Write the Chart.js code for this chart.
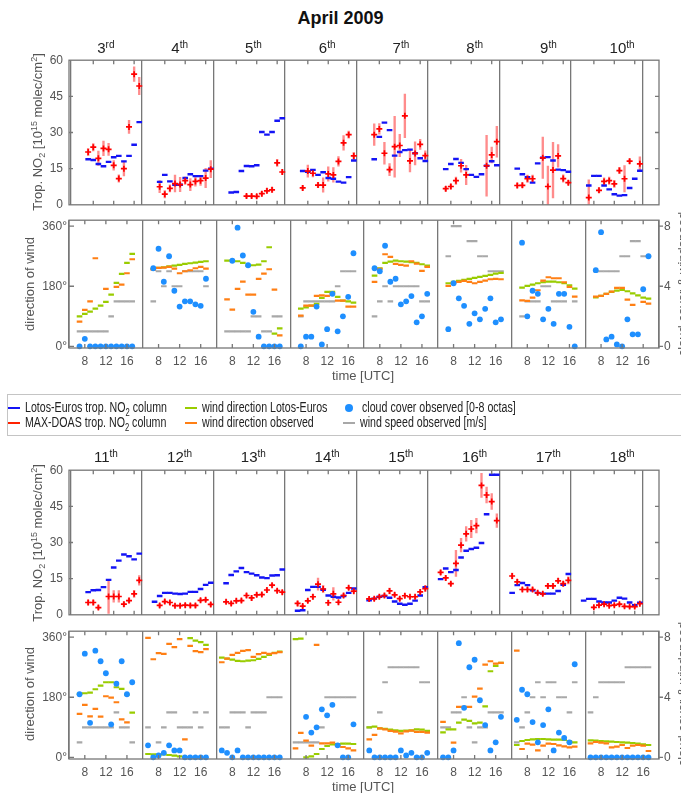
<!DOCTYPE html>
<html>
<head>
<meta charset="utf-8">
<script src="https://cdn.jsdelivr.net/npm/chart.js@4.4.1/dist/chart.umd.min.js"></script>
<style>
  body { margin: 0; width: 681px; height: 793px; overflow: hidden; background: #fff; position: relative;
         font-family: 'Liberation Sans', sans-serif; }
  canvas { position: absolute; left: 0; }
  .t { position: absolute; white-space: nowrap; }
  .title { left: 0; width: 681px; top: 8px; text-align: center; font: bold 18px 'Liberation Sans', sans-serif; color: #111; }
  .day { width: 73.75px; text-align: center; font-size: 15px; line-height: 16px; color: #222; }
  .day span { font-size: 10px; position: relative; top: -5px; }
  .rot { transform: translate(-50%, -50%) rotate(-90deg); font-size: 13px; color: #555; line-height: 14px; }
  .rot sub, .rot sup { font-size: 9px; }
  .time { font-size: 13px; color: #555; transform: translate(-50%, -50%); line-height: 14px; }
  .legend { left: 7px; top: 394px; width: 700px; height: 40px; border: 1.5px solid #c4c4c4; border-right: none; }
  .lg { font-size: 14px; line-height: 15px; color: #222; transform: scaleX(0.76); transform-origin: 0 50%; }
  .lg sub { font-size: 10px; }
  .sw { position: absolute; width: 12px; height: 2px; }
  .dot { position: absolute; width: 8px; height: 8px; border-radius: 50%; background: #1e8fff; }
</style>
</head>
<body>
<div class="t title">April 2009</div>
<script>
// hours of the day for every value slot
var hours = [6, 7, 8, 9, 10, 11, 12, 13, 14, 15, 16, 17];
var days = ['3', '4', '5', '6', '7', '8', '9', '10', '11', '12', '13', '14', '15', '16', '17', '18'];
var daySuffix = ['rd', 'th', 'th', 'th', 'th', 'th', 'th', 'th', 'th', 'th', 'th', 'th', 'th', 'th', 'th', 'th'];
var timeTicks = [8, 12, 16];
var no2Ticks = [0, 15, 30, 45, 60];
var dirTicks = [0, 180, 360];
var octaTicks = [0, 4, 8];

// Lotos-Euros tropospheric NO2 column [1e15 molec/cm2], one row per day
var lotosNo2 = [
  [null, 18.9, 18.6, 16.9, 16.0, 17.8, 19.7, 20.3, 18.0, 20.3, 24.9, 34.3],
  [null, 9.5, 12.4, 9.7, 8.3, 8.3, 11.1, 12.7, 11.9, 11.9, 14.2, 15.0],
  [null, 5.1, 5.3, 14.0, 16.1, 16.0, 16.4, 30.2, 29.1, 30.2, 34.9, 35.9],
  [null, 14.0, 13.7, 14.5, 12.4, 13.5, 11.1, 10.8, 9.6, 9.2, 11.5, 18.4],
  [null, 18.9, 28.2, 34.1, 31.0, 20.4, 21.9, 22.7, 22.9, 21.4, 19.3, 18.2],
  [null, 14.8, 16.9, 19.0, 17.4, 14.8, 12.4, 11.6, 12.7, 16.2, 18.1, 16.4],
  [null, 15.0, 12.7, 11.5, 9.2, 17.2, 19.5, 19.8, 18.4, 14.6, 14.4, 13.7],
  [null, 8.0, 12.0, 12.0, 8.0, 6.4, 4.4, 3.8, 4.0, 7.0, 10.8, 14.1],
  [null, 9.4, 10.2, 10.3, 11.5, 14.5, 19.6, 22.5, 25.0, 24.3, 23.0, 25.4],
  [5.4, 7.8, 9.1, 9.1, 8.8, 8.6, 8.8, 9.5, 9.5, 10.7, 12.4, 13.3],
  [13.1, 16.5, 18.0, 19.4, 17.7, 17.1, 16.4, 15.5, 15.2, 16.3, 16.4, 18.8],
  [1.7, 1.9, 10.3, 11.6, 11.6, 10.4, 8.0, 7.5, 7.2, 7.8, 9.1, 10.9],
  [6.0, 6.7, 7.5, 7.8, 7.1, 5.5, 4.6, 4.2, 4.6, 5.9, 8.0, 11.5],
  [14.8, 19.2, 17.7, 18.6, 23.8, 26.6, 27.3, 27.8, 29.8, 41.7, 58.1, 58.1],
  [9.1, 12.3, 13.2, 12.3, 10.2, 9.1, 8.8, 8.8, 8.8, 9.9, 12.5, 16.9],
  [5.9, 6.6, 6.6, 5.5, 5.1, 5.1, 5.9, 7.1, 6.7, 5.1, 4.0, 5.0]
];

// MAX-DOAS tropospheric NO2 column
var doasNo2 = [
  [null, 21.9, 23.9, 19.3, 23.4, 23.0, 16.4, 10.9, 15.0, 32.3, 54.2, 49.3],
  [null, 7.5, 4.4, 6.8, 8.8, 8.4, 10.0, 8.4, 9.7, 10.0, 11.1, 14.8],
  [null, null, null, null, 3.6, 3.6, 3.5, 4.6, 5.8, 6.2, 17.4, 13.6],
  [null, 7.0, 14.0, 13.1, 8.2, 8.2, 12.8, 12.4, 18.0, 25.7, 29.1, 20.3],
  [null, 29.1, 31.5, 21.4, 14.6, 24.1, 24.6, 36.9, 18.2, 21.3, 25.1, 20.4],
  [null, 6.7, 7.6, 10.0, 16.2, 12.4, null, null, null, 16.2, 20.7, 26.2],
  [null, 8.0, 8.1, 10.8, 10.8, null, 19.5, 7.6, 14.4, 20.3, 10.9, 9.2],
  [null, 3.0, null, 6.0, 9.7, 10.0, 8.7, 14.2, 10.8, 18.1, null, 17.0],
  [null, 5.1, 5.1, 3.0, null, 7.6, 7.6, 7.6, 4.4, 5.9, 8.7, 14.3],
  [null, 3.9, 5.5, 5.1, 3.8, 3.8, 4.0, 3.9, 3.9, 6.0, 6.2, 4.3],
  [5.4, 4.7, 5.8, 5.9, 8.0, 7.0, 8.3, 8.4, 10.3, 12.3, 10.0, 9.4],
  [4.7, 3.6, 5.8, 7.5, 12.7, 10.7, 5.0, 8.7, 5.2, 8.0, 11.2, 9.8],
  [6.6, 6.7, 7.5, 8.0, 9.9, 8.3, 6.7, 7.9, 7.5, 7.5, 9.5, 10.9],
  [17.6, 15.3, 12.9, 21.3, 28.9, 33.6, 35.6, 37.0, 53.7, 49.7, 47.0, 39.1],
  [16.1, 13.7, 10.5, 10.5, 10.5, 9.1, 8.7, 12.0, 12.0, 14.1, 12.9, 14.3],
  [null, null, 3.1, 4.0, 4.4, 3.8, 4.0, 4.4, 3.5, 3.4, 3.4, 4.6]
];

// MAX-DOAS error (half length of the bar)
var doasErr = [
  [null, 1.5, 1.5, 3, 3, 2.5, 2, 1.5, 3, 2.7, 3, 3.6],
  [null, 2.5, 1.5, 1.5, 3.5, 3, 1.5, 2.5, 2, 2, 4, 3.5],
  [null, null, null, null, 0.8, 0.8, 0.8, 1, 1, 1, 1.5, 1],
  [null, 1, 2.5, 1.5, 1, 3, 3, 3, 2, 3, 1.5, 1.5],
  [null, 4.5, 2.2, 4.5, 2.5, 12.6, 4.6, 9, 4.6, 4.8, 2.1, 2],
  [null, 1, 1, 1.5, 2.7, 4, null, null, null, 12.6, 3.3, 6.4],
  [null, 1, 1, 1.5, 1.5, null, 8.6, 8.5, 11.5, 4.7, 1.5, 1],
  [null, 7.4, null, 1, 1.5, 1.5, 1.5, 1.3, 5.5, 1, null, 2.9],
  [null, 1, 1, 0.8, null, 7, 2.4, 2.4, 1, 1, 1.5, 2],
  [null, 0.8, 0.8, 0.8, 0.6, 0.6, 0.8, 0.8, 0.8, 0.8, 0.8, 0.8],
  [0.8, 0.8, 0.8, 0.8, 0.8, 1, 0.8, 0.8, 0.8, 0.8, 0.8, 0.8],
  [1, 0.8, 0.8, 1, 2.5, 1.5, 1, 2.6, 0.8, 0.8, 0.8, 0.8],
  [0.8, 0.8, 0.8, 0.8, 1.2, 0.8, 0.8, 0.8, 0.8, 0.8, 1, 1.2],
  [1, 1, 0.8, 5.4, 2.8, 3, 3.6, 3, 5, 3.3, 3.3, 2.8],
  [1.2, 1, 0.8, 0.8, 0.8, 0.8, 0.8, 1, 1, 1, 1, 1.5],
  [null, null, 0.6, 0.6, 0.6, 0.6, 0.6, 0.6, 0.6, 0.6, 0.6, 0.6]
];

// wind direction Lotos-Euros [deg]
var windLotos = [
  [null, 90, 97, 104, 113, 122, 133, 155, 190, 217, 250, 277],
  [null, 232, 235, 237, 240, 242, 244, 247, 249, 251, 253, 255],
  [null, 257, 257, 255, 250, 242, 243, 245, 255, 297, 38, 54],
  [null, 113, 117, 122, 127, 145, 163, 163, 148, 137, 135, 131],
  [null, 212, 234, 250, 254, 257, 255, 254, 252, 250, 246, 242],
  [null, 189, 193, 196, 199, 202, 205, 208, 211, 214, 218, 220],
  [null, 176, 181, 185, 189, 192, 194, 194, 192, 189, 183, 173],
  [null, 147, 151, 157, 163, 167, 169, 165, 159, 153, 146, 143],
  [null, 190, 192, 194, 204, 215, 225, 225, 210, 205, 188, 134],
  [10, 9, 8, 9, 7, 5, 3, 0.5, 357, 350, 345, 337],
  [299, 296, 293, 289, 288, 290, 291, 295, 301, 307, 313, 317],
  [354, 356, 0, 3, 10, 25, 34, 39, 40, 41, 41, 40],
  [90, 92, 87, 85, 83, 81, 79, 80, 81, 84, 83, 79],
  [75, 84, 84, 104, 113, 109, 102, 104, 153, 258, 274, 283],
  [37, 49, 52, 54, 55, 55, 54, 53, 53, 52, 48, 45],
  [51, 50, 49, 48, 47, 46, 45, 44, 43, 41, 39, 37]
];

// wind direction observed [deg]
var windObs = [
  [null, 74, 109, 135, 264, null, 172, null, 178, 185, 219, 261],
  [null, 230, 235, 236, 238, 233, 219, 225, 228, 234, 238, 233],
  [null, 141, 110, 172, 194, 155, 155, 202, 218, 231, 170, 33],
  [null, 92, 122, 122, 151, 153, 151, 159, 137, 137, 119, 119],
  [null, 193, 232, 276, 268, 247, 244, 242, 255, 248, 226, 238],
  [null, 181, 189, 193, 196, 193, 189, 193, 197, 201, 202, 201],
  [null, 138, 136, 146, 168, 197, 207, 204, 204, 192, 178, 149],
  [null, 149, 151, 157, 164, 175, 175, 140, 124, null, 133, 128],
  [null, 130, 157, 123, 145, 122, 183, 179, 165, 114, 105, null],
  [358, 294, 312, 310, 340, 330, 354, 54, 334, 318, 315, 324],
  [285, 296, 307, 313, 319, 321, 301, 309, 313, 310, 312, 315],
  [27, 73, 50, 35, 337, 42, 42, 44, 35, 31, 27, 21],
  [54, 67, 87, 84, 79, 77, 72, 78, 80, 76, 76, 74],
  [106, null, 44, 151, 151, 151, 182, 206, 278, 288, 281, 283],
  [320, 25, 41, 38, 21, 35, 41, 40, 36, 33, 30, 32],
  [42, 46, 44, 42, 30, 32, 37, 28, 35, 37, 35, 19]
];

// wind speed observed [m/s]
var windSpeed = [
  [null, 1, 1, 1, 1, 1, 1, 2, 3, 3, 3, 3],
  [null, 3, 5, 4, 5, 4, 4, 5, 5, 5, 5, 4],
  [null, 1, 1, 1, 1, 1, 2, 2, 1, 1, 2, 2],
  [null, 2, 3, 3, 3, 3, 3, 3, 4, 5, 5, 5],
  [null, 2, 3, 4, 3, 4, 4, 4, 4, 4, 3, 3],
  [null, 6, 8, 8, null, 7, 7, 6, 6, 5, 5, 5],
  [null, 2, 3, 3, 3, 4, 4, 3, 3, 3, null, 3],
  [null, 5, 5, 5, 5, 5, 6, 6, 7, 7, 6, 6],
  [null, 1, 2, 2, 2, 2, 2, 2, 3, 2, 2, 1],
  [2, null, 1, 2, 3, 3, 2, 2, 2, 3, 2, 3],
  [2, 2, 3, 3, 3, 2, 3, 3, 3, 4, 4, 4],
  [1, 1, 1, 1, 1, 2, 4, 4, 4, 4, 4, 4],
  [2, null, 3, 5, 6, 6, 6, 6, 6, 6, 5, 5],
  [2, 2, 3, 3, 4, 2, 1, 2, 2, 3, 3, 3],
  [1, 2, 3, 4, 5, 4, 5, 5, 4, 4, 3, 5],
  [3, 4, 5, 5, 5, 5, 5, 6, 6, 6, 6, 6]
];

// cloud cover observed [octas]
var cloudCover = [
  [null, 0, 0.5, 0, 0, 0, 0, 0, 0, 0, 0, 0],
  [null, 5.2, 6.5, 4.3, 6.0, 3.7, 2.65, 3.0, 3.0, 2.8, 2.7, 4.5],
  [null, null, 5.7, 7.9, 6.05, 5.4, 2.3, 0.64, 0, 0, 0, 0],
  [null, 0, 0.64, 0.64, 2.65, 0.13, 1.14, 3.5, 1.0, 2.0, 3.3, 6.2],
  [null, 5.2, 5.0, 6.7, 4.3, 4.5, 2.8, 3.0, 3.35, 1.6, 2.0, 3.5],
  [null, 1.14, 4.2, 3.2, 2.7, 1.5, 2.2, 1.8, 2.5, 3.2, 1.6, 1.8],
  [null, 6.9, 2.0, 3.7, 3.5, 1.8, 2.5, 1.5, 3.5, 3.5, 1.3, 0],
  [null, 5.07, 7.6, 0.46, 0.64, 0.13, 0, 1.8, 0.8, 0.8, 3.8, 6.0],
  [null, 4.2, 6.9, 2.3, 7.1, 6.4, 5.6, 2.2, 4.9, 6.4, 4.2, 5.0],
  [0.8, 0, 0.13, 0.3, 0.8, 0.46, 0.46, 0, 0, 0, 0, 0],
  [0.46, 0.3, 0, 0.46, 0, 0, 0, 0, 0, 0, 0, 0],
  [null, null, 2.7, 1.65, 2.0, 3.2, 2.8, 3.5, 0.8, 0, 0, 2.2],
  [0.46, 0, 0, 0, 0, 0, 0.46, 0.13, 0.3, 0, 0, 0.3],
  [0, 0, 0.46, 7.6, 3.3, 6.0, 6.5, 3.8, 2.15, 0.46, 1.0, 2.7],
  [2.5, 4.5, 4.2, 2.35, 1.0, 2.15, 3.2, 0.46, 1.65, 1.3, 1.0, 6.2],
  [0, 0, 0, 0, 0, 0, 0, 0, 0, 0, 0, 0]
];

Chart.defaults.font.family = "'Liberation Sans Narrow', 'Liberation Sans', sans-serif";
Chart.defaults.font.size = 12;
Chart.defaults.color = '#555';

var W = 681, LEFT = 69, RIGHT = 22, PAD = 10;

// each day takes 14 hours of the shared x axis, starting at 5 UTC
function xOf(d, k) { return d * 14 + (hours[k] - 5); }

function points(rows) {
  var out = [];
  rows.forEach(function (row, d) {
    row.forEach(function (v, k) { if (v !== null) out.push({ x: xOf(d, k), y: v }); });
  });
  return out;
}

function errBars(rows, errs) {
  var out = [];
  rows.forEach(function (row, d) {
    row.forEach(function (v, k) {
      if (v !== null && errs[d][k] !== null) out.push({ x: xOf(d, k), y: [v - errs[d][k], v + errs[d][k]] });
    });
  });
  return out;
}

var framePlugin = {
  id: 'frame',
  afterDatasetsDraw: function (chart, args, opts) {
    var a = chart.chartArea, c = chart.ctx, xs = chart.scales.x;
    c.save();
    c.strokeStyle = '#777';
    c.lineWidth = 1.3;
    c.strokeRect(a.left, a.top, a.right - a.left, a.bottom - a.top);
    c.beginPath();
    xs.ticks.forEach(function (t) {
      if (t.value % 14 === 0) return;
      var px = xs.getPixelForValue(t.value);
      c.moveTo(px, a.top); c.lineTo(px, a.top + 4);
      c.moveTo(px, a.bottom); c.lineTo(px, a.bottom - 4);
    });
    (opts.yTicks || []).forEach(function (s) {
      var sc = chart.scales[s.axis];
      s.values.forEach(function (v) {
        var py = sc.getPixelForValue(v);
        var x0 = s.side === 'left' ? a.left : a.right;
        var x1 = s.side === 'left' ? a.left + s.len : a.right - s.len;
        c.moveTo(x0, py); c.lineTo(x1, py);
      });
    });
    c.stroke();
    c.restore();
  }
};

function xAxis(showLabels, height) {
  return {
    type: 'linear', min: 0, max: 112,
    afterBuildTicks: function (s) {
      var t = [];
      for (var d = 0; d <= 8; d++) {
        t.push({ value: d * 14 });
        if (d < 8) timeTicks.forEach(function (h) { t.push({ value: d * 14 + h - 5 }); });
      }
      s.ticks = t;
    },
    afterFit: function (s) { s.height = height; },
    ticks: {
      display: showLabels, autoSkip: false, maxRotation: 0, padding: 6, font: { size: 12 },
      callback: function (v) { var r = v % 14; return r === 0 ? '' : String(r + 5); }
    },
    grid: {
      drawTicks: false, lineWidth: 1.3,
      color: function (ctx) { return ctx.tick && ctx.tick.value % 14 === 0 ? '#777' : 'rgba(0,0,0,0)'; }
    },
    border: { display: false }
  };
}

function yAxis(pos, min, max, ticks, width, labels, pad, fmt) {
  return {
    type: 'linear', position: pos, min: min, max: max,
    afterBuildTicks: function (s) { s.ticks = ticks.map(function (v) { return { value: v }; }); },
    afterFit: function (s) { s.width = width; },
    ticks: { display: labels, padding: pad, callback: fmt || function (v) { return String(v); } },
    grid: { display: false, drawTicks: false },
    border: { display: false }
  };
}

function makeCanvas(top, height) {
  var c = document.createElement('canvas');
  c.width = W; c.height = height;
  c.style.top = top + 'px';
  document.body.appendChild(c);
  return c;
}

function baseOptions(scales, frame) {
  return {
    responsive: false, animation: false, events: [], devicePixelRatio: 1,
    layout: { padding: { top: PAD, bottom: 0, left: 0, right: 0 } },
    plugins: { legend: { display: false }, tooltip: { enabled: false }, frame: frame },
    scales: scales
  };
}

function no2Chart(areaTop, first) {
  var sl = function (arr) { return arr.slice(first, first + 8); };
  new Chart(makeCanvas(areaTop - PAD, PAD + 151 + 10), {
    type: 'scatter',
    data: {
      datasets: [
        { type: 'bar', data: errBars(sl(doasNo2), sl(doasErr)), backgroundColor: 'rgba(255,45,45,0.55)',
          barThickness: 1.7, grouped: false, order: 3 },
        { data: points(sl(lotosNo2)), pointStyle: 'line', pointRadius: 2.8, borderColor: '#1414f5',
          borderWidth: 2.4, clip: 4, order: 2 },
        { data: points(sl(doasNo2)), pointStyle: 'cross', pointRadius: 3, borderColor: '#ff0000',
          borderWidth: 1.7, clip: 4, order: 1 }
      ]
    },
    options: baseOptions({
      x: xAxis(false, 10),
      y: yAxis('left', 0, 60, no2Ticks, LEFT, true, 6),
      yr: yAxis('right', 0, 1, [], RIGHT, false, 0)
    }, {
      yTicks: [{ axis: 'y', side: 'left', len: 4, values: [15, 30, 45] },
               { axis: 'y', side: 'right', len: 4, values: [15, 30, 45] }]
    }),
    plugins: [framePlugin]
  });
}

function windChart(areaTop, first) {
  var sl = function (arr) { return arr.slice(first, first + 8); };
  new Chart(makeCanvas(areaTop - PAD, PAD + 130 + 24), {
    type: 'scatter',
    data: {
      datasets: [
        { data: points(sl(windSpeed)), yAxisID: 'y2', pointStyle: 'line', pointRadius: 2.8,
          borderColor: '#a8a8a8', borderWidth: 2.2, clip: 4, order: 4 },
        { data: points(sl(windLotos)), yAxisID: 'y', pointStyle: 'line', pointRadius: 2.8,
          borderColor: '#99cc00', borderWidth: 2.2, clip: 4, order: 3 },
        { data: points(sl(windObs)), yAxisID: 'y', pointStyle: 'line', pointRadius: 2.8,
          borderColor: '#ff7f14', borderWidth: 2.2, clip: 4, order: 2 },
        { data: points(sl(cloudCover)), yAxisID: 'y2', pointStyle: 'circle', pointRadius: 2.9,
          backgroundColor: '#1e8fff', borderWidth: 0, clip: 5, order: 1 }
      ]
    },
    options: baseOptions({
      x: xAxis(true, 24),
      y: yAxis('left', -5, 378, dirTicks, LEFT, true, 2, function (v) { return v + '°'; }),
      y2: yAxis('right', -5 / 45, 378 / 45, octaTicks, RIGHT, true, 5)
    }, {
      yTicks: [{ axis: 'y', side: 'left', len: 5, values: [0, 180, 360] },
               { axis: 'y2', side: 'right', len: -4, values: [0, 4, 8] }]
    }),
    plugins: [framePlugin]
  });
}

no2Chart(57, 0);
windChart(218, 0);
no2Chart(467, 8);
windChart(629, 8);

function addText(cls, html, left, top) {
  var el = document.createElement('div');
  el.className = 't ' + cls;
  el.innerHTML = html;
  el.style.left = left + 'px';
  el.style.top = top + 'px';
  document.body.appendChild(el);
  return el;
}

days.forEach(function (d, i) {
  var col = i % 8;
  var top = i < 8 ? 40 : 449;
  addText('day', d + '<span>' + daySuffix[i] + '</span>', LEFT + col * 73.75, top);
});

[132, 543].forEach(function (y) {
  addText('rot', 'Trop. NO<sub>2</sub> [10<sup>15</sup> molec/cm<sup>2</sup>]', 38, y);
});
[284, 694].forEach(function (y) {
  addText('rot', 'direction of wind', 30, y);
  addText('rot', 'cloud cover &amp; windspeed', 683, y);
});
[376, 787].forEach(function (y) {
  addText('time', 'time [UTC]', 363, y);
});

addText('legend', '', 7, 394);
var legendItems = [
  ['Lotos-Euros trop. NO<sub>2</sub> column', 8, 408, 'line', '#1414f5'],
  ['MAX-DOAS trop. NO<sub>2</sub> column', 8, 423, 'line', '#ff2200'],
  ['wind direction Lotos-Euros', 185, 408, 'line', '#99cc00'],
  ['wind direction observed', 185, 423, 'line', '#ff7f14'],
  ['cloud cover observed [0-8 octas]', 345, 408, 'dot', '#1e8fff'],
  ['wind speed observed [m/s]', 343, 423, 'line', '#a8a8a8']
];
legendItems.forEach(function (it) {
  var sw = document.createElement('div');
  sw.className = it[3] === 'dot' ? 'dot' : 'sw';
  sw.style.left = it[1] + 'px';
  sw.style.top = (it[3] === 'dot' ? it[2] - 4 : it[2] - 1) + 'px';
  sw.style.background = it[4];
  document.body.appendChild(sw);
  addText('lg', it[0], it[1] + 17, it[2] - 8);
});
</script>
</body>
</html>
